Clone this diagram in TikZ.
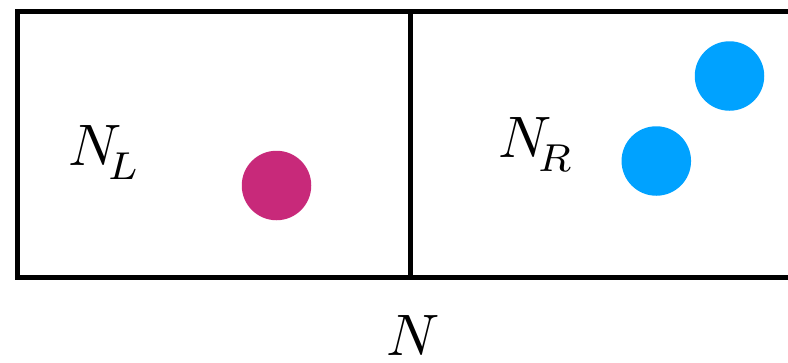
\documentclass[tikz,border=0pt]{standalone}
\usepackage{graphicx}
\definecolor{magentadot}{RGB}{200,41,122}
\definecolor{bluedot}{RGB}{0,162,255}
\tikzset{
  frame/.style={line width=5pt, draw=black},
  dot/.style={circle, minimum size=69.5pt, inner sep=0pt},
  lbl/.style={anchor=base west, inner sep=0pt},
}
\newcommand{\bigsym}[1]{\scalebox{5.85}{#1}}
\newcommand{\withsub}[1]{$N\kern-2.4pt\raisebox{-2.4pt}{\scalebox{0.95}{$\scriptstyle #1$}}$}
\begin{document}
\begin{tikzpicture}[x=1pt,y=-1pt]
\useasboundingbox (0,0) rectangle (788,362);
\clip (0,0) rectangle (788,362);
\fill[white] (0,0) rectangle (788,362);
\coordinate (tl) at (17.5,11.5);
\coordinate (bl) at (17.5,277.5);
\coordinate (tr) at (800,11.5);
\coordinate (br) at (800,277.5);
\coordinate (mt) at (410.5,11.5);
\coordinate (mb) at (410.5,277.5);
\draw[frame, line join=miter] (tr) -- (tl) -- (bl) -- (br);
\draw[frame] (mt) -- (mb);
\node[dot, fill=magentadot] (m) at (276.5,185.5) {};
\node[dot, fill=bluedot] (b1) at (656.3,161) {};
\node[dot, fill=bluedot] (b2) at (729.5,76) {};
\node[lbl] (nl) at (68,165) {\bigsym{\withsub{L}}};
\node[lbl] (nr) at (498,157) {\bigsym{\withsub{R}}};
\node[lbl] (n) at (386,355) {\bigsym{$N$}};
\end{tikzpicture}
\end{document}
